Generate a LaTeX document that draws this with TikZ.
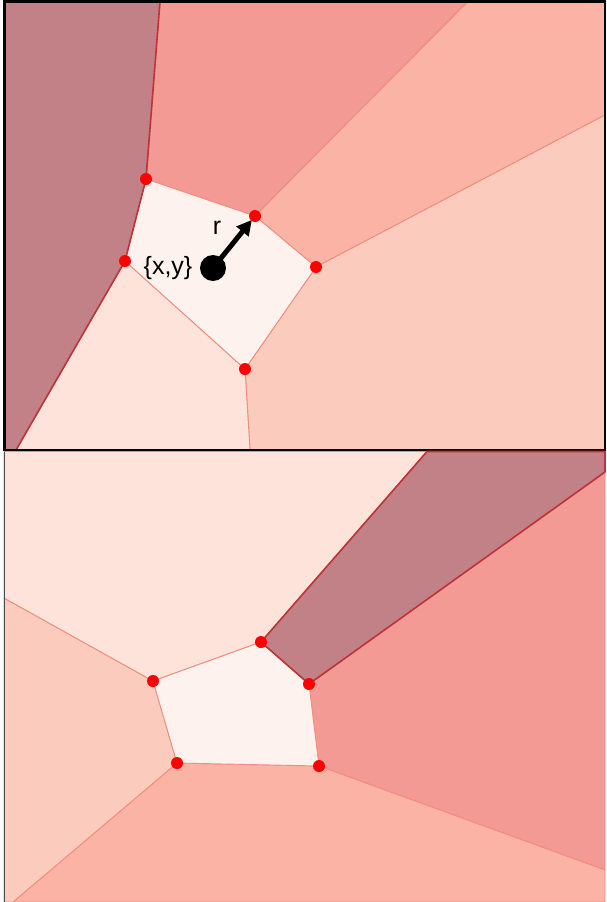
\documentclass[tikz,border=0pt]{standalone}
\usepackage{fontspec}
\setmainfont{Liberation Sans}
\usetikzlibrary{arrows.meta}
\definecolor{mauvefill}{RGB}{194, 129, 135}
\definecolor{salmonfill}{RGB}{242, 154, 147}
\definecolor{peachfill}{RGB}{250, 179, 164}
\definecolor{blushfill}{RGB}{251, 203, 189}
\definecolor{palefill}{RGB}{253, 227, 217}
\definecolor{cellfill}{RGB}{253, 242, 238}
\definecolor{softedge}{RGB}{242, 140, 126}
\definecolor{hardedge}{RGB}{190, 50, 56}

\begin{document}
\begin{tikzpicture}[
    x=1pt, y=-1pt,
    region/.style={
        fill=#1fill,
        draw=softedge,
        line width=0.9pt,
        line join=round,
    },
    darkregion/.style={
        fill=mauvefill,
        draw=hardedge,
        line width=1.6pt,
        line join=round,
    },
    vertex/.style={
        circle,
        fill=red,
        inner sep=0pt,
        minimum size=12pt,
    },
    site/.style={
        circle,
        fill=black,
        inner sep=0pt,
        minimum size=26pt,
    },
    label/.style={font=\fontsize{25}{30}\selectfont},
    pointer/.style={-{Triangle[length=15pt, width=15pt]}, line width=5pt},
]

\useasboundingbox (0,0) rectangle (606,902);

% -- Top panel: frame corners
\coordinate (tl) at (4.5,1.5);
\coordinate (tr) at (605,1.5);
\coordinate (br) at (605,450);
\coordinate (bl) at (4.5,450);

% -- Top panel: cell corners
\coordinate (c1) at (146,179);
\coordinate (c2) at (255,216);
\coordinate (c3) at (316,267);
\coordinate (c4) at (245,369);
\coordinate (c5) at (125,261);

% -- Top panel: where the edges leave the frame
\coordinate (e1) at (160,1.5);
\coordinate (e2) at (468,1.5);
\coordinate (e3) at (605,115);
\coordinate (e4) at (250,450);
\coordinate (e5) at (16,450);

% -- Top panel: regions
\draw[region=salmon] (e1) -- (e2) -- (c2) -- (c1) -- cycle;
\draw[region=peach] (e2) -- (tr) -- (e3) -- (c3) -- (c2) -- cycle;
\draw[region=blush] (e3) -- (br) -- (e4) -- (c4) -- (c3) -- cycle;
\draw[region=pale] (c5) -- (c4) -- (e4) -- (e5) -- cycle;
\draw[region=cell] (c1) -- (c2) -- (c3) -- (c4) -- (c5) -- cycle;
\draw[darkregion] (tl) -- (e1) -- (c1) -- (c5) -- (e5) -- (bl) -- cycle;

% -- Top panel: site and radius
\node[site] (xy) at (213,268) {};
\draw[pointer, shorten >=5pt] (xy.center) -- (c2);
\node[label] (rlabel) at (217,228) {r};
\node[label] (xylabel) at (168,268) {\{x,y\}};

% -- Top panel: cell vertices
\foreach \v in {c1,c2,c3,c4,c5}
    \node[vertex] at (\v) {};

% -- Top panel: frame
\draw[line width=2.6pt] (tl) rectangle (br);

% -- Bottom panel: corners
\coordinate (btl) at (4,451.5);
\coordinate (btr) at (605,451.5);
\coordinate (bbr) at (605,902);
\coordinate (bbl) at (4,902);

% -- Bottom panel: cell corners
\coordinate (d1) at (261,642);
\coordinate (d2) at (309,684);
\coordinate (d3) at (319,766);
\coordinate (d4) at (177,763);
\coordinate (d5) at (153,681);

% -- Bottom panel: where the edges leave the panel
\coordinate (f1) at (427,451.5);
\coordinate (f2) at (605,472);
\coordinate (f3) at (605,870);
\coordinate (f4) at (13,902);
\coordinate (f5) at (4,598);

% -- Bottom panel: regions
\draw[region=salmon] (d2) -- (f2) -- (f3) -- (d3) -- cycle;
\draw[region=peach] (d4) -- (d3) -- (f3) -- (bbr) -- (f4) -- cycle;
\draw[region=blush] (f5) -- (d5) -- (d4) -- (f4) -- (bbl) -- cycle;
\draw[region=pale] (btl) -- (f1) -- (d1) -- (d5) -- (f5) -- cycle;
\draw[region=cell] (d1) -- (d2) -- (d3) -- (d4) -- (d5) -- cycle;
\draw[darkregion] (d1) -- (f1) -- (btr) -- (f2) -- (d2) -- cycle;

% -- Bottom panel: cell vertices
\foreach \v in {d1,d2,d3,d4,d5}
    \node[vertex] at (\v) {};

% -- Bottom panel: left rule
\draw[black!70, line width=1pt] (btl) -- (bbl);

\end{tikzpicture}
\end{document}
